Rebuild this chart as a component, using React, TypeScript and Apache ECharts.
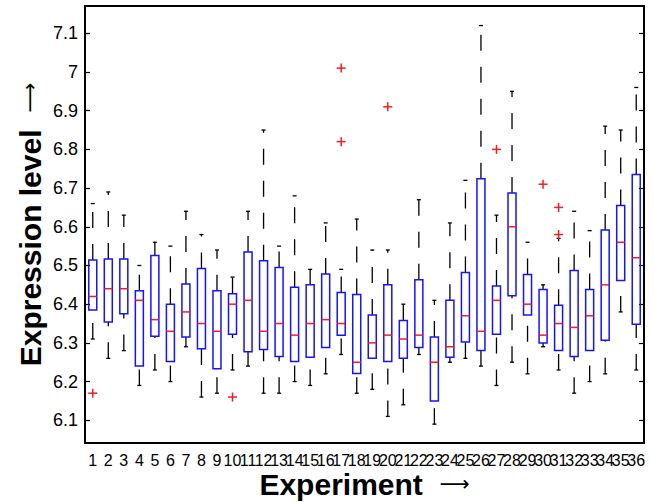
import React, { useEffect, useRef } from "react";
import * as echarts from "echarts";

const experiments = Array.from({ length: 36 }, (_, i) => String(i + 1));
const yTicks = [6.1, 6.2, 6.3, 6.4, 6.5, 6.6, 6.7, 6.8, 6.9, 7.0, 7.1];

const lowerWhisker = [6.31, 6.26, 6.28, 6.19, 6.23, 6.20, 6.29, 6.16, 6.17, 6.23, 6.24, 6.17, 6.17, 6.20, 6.19, 6.22, 6.27, 6.17, 6.18, 6.11, 6.14, 6.27, 6.09, 6.25, 6.26, 6.24, 6.19, 6.25, 6.22, 6.29, 6.23, 6.17, 6.20, 6.22, 6.38, 6.23];
const q1 = [6.385, 6.354, 6.375, 6.24, 6.317, 6.252, 6.315, 6.285, 6.233, 6.322, 6.277, 6.283, 6.265, 6.252, 6.263, 6.288, 6.32, 6.221, 6.26, 6.252, 6.26, 6.288, 6.15, 6.263, 6.302, 6.28, 6.322, 6.422, 6.372, 6.30, 6.28, 6.265, 6.28, 6.307, 6.461, 6.348];
const median = [6.42, 6.44, 6.44, 6.41, 6.36, 6.33, 6.38, 6.35, 6.33, 6.40, 6.41, 6.33, 6.35, 6.32, 6.35, 6.36, 6.35, 6.25, 6.30, 6.32, 6.31, 6.32, 6.25, 6.29, 6.37, 6.33, 6.41, 6.60, 6.40, 6.32, 6.35, 6.34, 6.37, 6.45, 6.56, 6.52];
const q3 = [6.514, 6.517, 6.517, 6.435, 6.526, 6.40, 6.452, 6.492, 6.435, 6.427, 6.535, 6.512, 6.495, 6.444, 6.45, 6.478, 6.43, 6.425, 6.372, 6.45, 6.358, 6.463, 6.315, 6.41, 6.482, 6.724, 6.447, 6.687, 6.477, 6.438, 6.397, 6.487, 6.438, 6.592, 6.655, 6.735];
const upperWhisker = [6.66, 6.69, 6.63, 6.50, 6.56, 6.55, 6.64, 6.58, 6.54, 6.47, 6.64, 6.85, 6.55, 6.68, 6.49, 6.61, 6.49, 6.62, 6.54, 6.54, 6.40, 6.67, 6.41, 6.61, 6.72, 7.12, 6.63, 6.95, 6.56, 6.45, 6.57, 6.64, 6.59, 6.86, 6.85, 6.96];
// outliers: experiment index (0-based) and value
const outlierExp = [0, 9, 16, 16, 19, 26, 29, 30, 30];
const outlierVal = [6.17, 6.16, 7.01, 6.82, 6.91, 6.80, 6.71, 6.65, 6.58];

const FONT = "'Liberation Sans', Arial, Helvetica, sans-serif";
const ARROW_FONT = "'DejaVu Sans', sans-serif";

export default function App() {
  const ref = useRef<HTMLDivElement>(null);
  useEffect(() => {
    document.body.style.margin = "0";
    const chart = echarts.init(ref.current!, null, { renderer: "svg" });
    const boxData = experiments.map((_, i) => [i, lowerWhisker[i], q1[i], median[i], q3[i], upperWhisker[i]]);
    const outData = outlierExp.map((e, i) => [e, outlierVal[i]]);
    const fmt = (v: number) => String(Number(v.toFixed(1)));
    const yMin = 6.0413;
    const yMax = 7.1705;
    const nameRich = {
      b: { fontSize: 30, fontWeight: "bold", fontFamily: FONT, color: "#000", lineHeight: 30 },
      s: { fontSize: 30, fontFamily: FONT, color: "#000", lineHeight: 30 },
      a: { fontSize: 21, fontWeight: "normal", fontFamily: ARROW_FONT, color: "#000", lineHeight: 30 },
    };
    const option: any = {
      animation: false,
      backgroundColor: "#ffffff",
      grid: { left: 85, right: 11, top: 6, bottom: 59, containLabel: false, outerBoundsMode: "none" },
      xAxis: [
        {
          type: "category",
          data: experiments,
          boundaryGap: true,
          position: "bottom",
          axisLine: { lineStyle: { color: "#000", width: 2 } },
          axisTick: { inside: true, alignWithLabel: true, interval: 0, length: 5, lineStyle: { color: "#000", width: 1.2 } },
          axisLabel: { interval: 0, color: "#000", fontSize: 16, fontFamily: FONT, margin: 9 },
          splitLine: { show: false },
          name: "{b|Experiment}{s|  }{a|\u27F6}",
          nameLocation: "middle",
          nameGap: 26,
          nameMoveOverlap: false,
          nameTextStyle: { color: "#000", rich: nameRich },
        },
        {
          type: "category",
          data: experiments,
          boundaryGap: true,
          position: "top",
          axisLine: { lineStyle: { color: "#000", width: 2 } },
          axisTick: { inside: true, alignWithLabel: true, interval: 0, length: 5, lineStyle: { color: "#000", width: 1.2 } },
          axisLabel: { show: false },
          splitLine: { show: false },
        },
      ],
      yAxis: [
        {
          type: "value",
          min: yMin,
          max: yMax,
          position: "left",
          axisLine: { show: true, lineStyle: { color: "#000", width: 2 } },
          axisTick: { show: true, inside: true, length: 5, customValues: yTicks, lineStyle: { color: "#000", width: 1.2 } },
          axisLabel: { customValues: yTicks, formatter: fmt, color: "#000", fontSize: 18, fontFamily: FONT, margin: 7 },
          splitLine: { show: false },
          name: "{b|Expression level}{s|  }{a|\u27F6}",
          nameLocation: "middle",
          nameRotate: 90,
          nameGap: 40,
          nameMoveOverlap: false,
          nameTextStyle: { color: "#000", rich: nameRich },
        },
        {
          type: "value",
          min: yMin,
          max: yMax,
          position: "right",
          axisLine: { show: true, lineStyle: { color: "#000", width: 2 } },
          axisTick: { show: true, inside: true, length: 5, customValues: yTicks, lineStyle: { color: "#000", width: 1.2 } },
          axisLabel: { show: false, customValues: yTicks },
          splitLine: { show: false },
        },
      ],
      series: [
        {
          type: "custom",
          xAxisIndex: 0,
          yAxisIndex: 0,
          data: boxData,
          encode: { x: 0, y: [1, 2, 3, 4, 5] },
          renderItem: (params: any, api: any) => {
            const x = api.value(0);
            const pLw = api.coord([x, api.value(1)]);
            const pQ1 = api.coord([x, api.value(2)]);
            const pMed = api.coord([x, api.value(3)]);
            const pQ3 = api.coord([x, api.value(4)]);
            const pUw = api.coord([x, api.value(5)]);
            const cx = pMed[0];
            const half = 4;
            const cap = 2;
            const wStyle = { stroke: "#000", lineWidth: 1.3, lineDash: [16, 16], fill: "none" };
            const cStyle = { stroke: "#000", lineWidth: 1.3 };
            return {
              type: "group",
              children: [
                { type: "line", shape: { x1: cx, y1: pQ3[1], x2: cx, y2: pUw[1] }, style: wStyle },
                { type: "line", shape: { x1: cx, y1: pLw[1], x2: cx, y2: pQ1[1] }, style: wStyle },
                { type: "line", shape: { x1: cx - cap, y1: pUw[1], x2: cx + cap, y2: pUw[1] }, style: cStyle },
                { type: "line", shape: { x1: cx - cap, y1: pLw[1], x2: cx + cap, y2: pLw[1] }, style: cStyle },
                {
                  type: "rect",
                  shape: { x: cx - half, y: pQ3[1], width: half * 2, height: pQ1[1] - pQ3[1] },
                  style: { fill: "none", stroke: "#1414ff", lineWidth: 1.5 },
                },
                { type: "line", shape: { x1: cx - half, y1: pMed[1], x2: cx + half, y2: pMed[1] }, style: { stroke: "#ff1a1a", lineWidth: 1.5 } },
              ],
            };
          },
          z: 2,
        },
        {
          type: "custom",
          xAxisIndex: 0,
          yAxisIndex: 0,
          data: outData,
          encode: { x: 0, y: 1 },
          renderItem: (params: any, api: any) => {
            const p = api.coord([api.value(0), api.value(1)]);
            const s = 4.5;
            const st = { stroke: "#ff1a1a", lineWidth: 1.5 };
            return {
              type: "group",
              children: [
                { type: "line", shape: { x1: p[0] - s, y1: p[1], x2: p[0] + s, y2: p[1] }, style: st },
                { type: "line", shape: { x1: p[0], y1: p[1] - s, x2: p[0], y2: p[1] + s }, style: st },
              ],
            };
          },
          z: 3,
        },
      ],
    };
    chart.setOption(option);
    return () => chart.dispose();
  }, []);
  return <div ref={ref} style={{ width: 655, height: 502 }} />;
}
